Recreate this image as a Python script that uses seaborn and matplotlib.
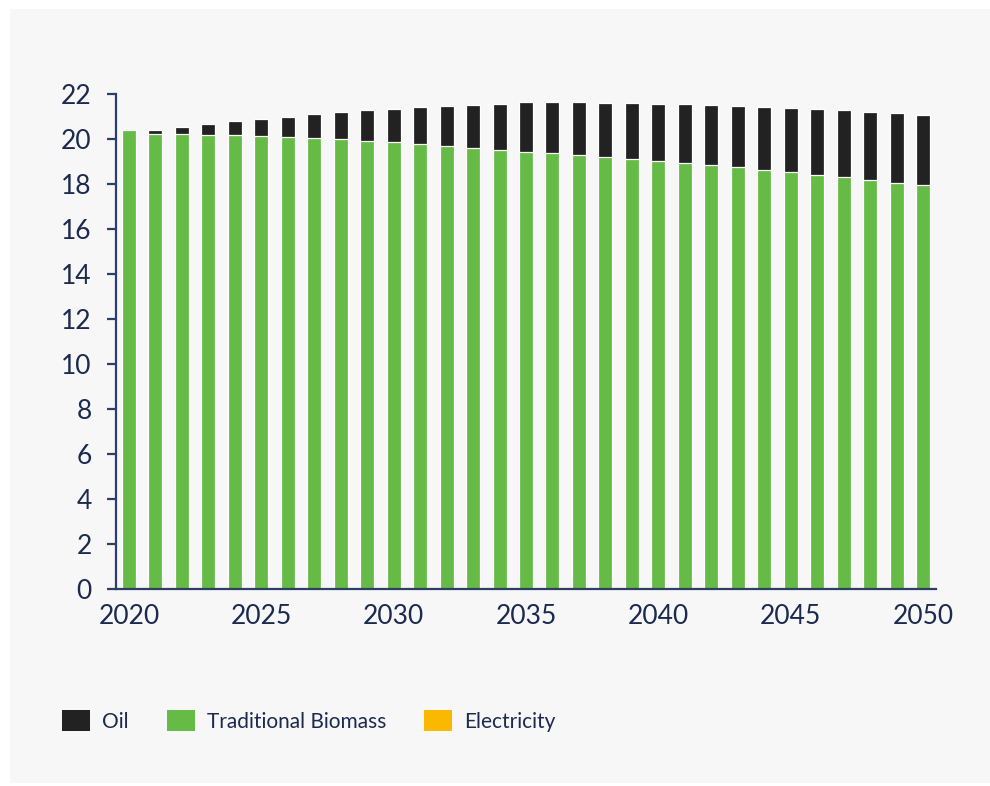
import matplotlib
matplotlib.use("Agg")
import matplotlib.pyplot as plt
from matplotlib.patches import Rectangle, Patch
import numpy as np
import pandas as pd
import seaborn as sns

# Final energy demand by fuel, 2020-2050
years = list(range(2020, 2051))
traditional_biomass = [20.40, 20.22, 20.22, 20.19, 20.19, 20.15, 20.10, 20.06, 20.00, 19.92,
                       19.85, 19.79, 19.70, 19.61, 19.51, 19.41, 19.36, 19.27, 19.21, 19.12,
                       19.04, 18.93, 18.84, 18.74, 18.64, 18.52, 18.41, 18.30, 18.19, 18.06,
                       17.94]
oil = [0.00, 0.16, 0.31, 0.48, 0.60, 0.75, 0.90, 1.03, 1.18, 1.35,
       1.48, 1.62, 1.77, 1.90, 2.06, 2.22, 2.27, 2.36, 2.40, 2.47,
       2.53, 2.63, 2.67, 2.73, 2.78, 2.84, 2.91, 2.97, 3.02, 3.08,
       3.13]
electricity = [0.0] * len(years)

series_names = ["Oil", "Traditional Biomass", "Electricity"]
series_colors = ["#222222", "#65bb46", "#fbb800"]

y_ticks = list(range(0, 23, 2))
x_tick_years = [2020, 2025, 2030, 2035, 2040, 2045, 2050]

df = pd.DataFrame({
    "year": years,
    "biomass": traditional_biomass,
    "oil": oil,
    "electricity": electricity,
})
df["biomass_oil"] = df["biomass"] + df["oil"]
df["total"] = df["biomass_oil"] + df["electricity"]

text_color = "#1c2a4f"
axis_color = "#2d3f66"
panel_color = "#f7f7f7"

sns.set_theme(style="white")
plt.rcParams["font.family"] = ["Lato", "DejaVu Sans"]

fig = plt.figure(figsize=(9.9, 7.86), dpi=100)
fig.patch.set_facecolor("white")
fig.patches.append(Rectangle((10 / 990, 3 / 786), 980 / 990, 774 / 786,
                             transform=fig.transFigure, facecolor=panel_color,
                             edgecolor="none", zorder=-10))

ax = fig.add_axes([116 / 990, 1 - 589 / 786, (936 - 116) / 990, (589 - 94) / 786])
ax.set_facecolor(panel_color)
ax.patch.set_alpha(0)

order = [str(y) for y in years]
df["year_s"] = df["year"].astype(str)
bar_kw = dict(width=0.53, edgecolor="white", linewidth=0.9, saturation=1, order=order)

# stacked bars: draw cumulative totals from the top segment down
sns.barplot(data=df, x="year_s", y="total", color=series_colors[2], ax=ax, **bar_kw)
sns.barplot(data=df, x="year_s", y="biomass_oil", color=series_colors[0], ax=ax, **bar_kw)
sns.barplot(data=df, x="year_s", y="biomass", color=series_colors[1], ax=ax, **bar_kw)

ax.set_xlim(-0.49, len(years) - 0.51)
ax.set_ylim(0, 22)
ax.set_yticks(y_ticks)
ax.set_xticks([years.index(y) for y in x_tick_years])
ax.set_xticklabels([str(y) for y in x_tick_years])
ax.set_xlabel("")
ax.set_ylabel("")

for side in ["top", "right"]:
    ax.spines[side].set_visible(False)
for side in ["left", "bottom"]:
    ax.spines[side].set_color(axis_color)
    ax.spines[side].set_linewidth(1.6)

ax.tick_params(axis="y", which="major", length=6.5, width=1.6, color=axis_color,
               labelsize=19, labelcolor=text_color, pad=11, left=True)
ax.tick_params(axis="x", which="major", length=0, labelsize=19,
               labelcolor=text_color, pad=11)

handles = [Patch(facecolor=c, edgecolor="none") for c in series_colors]
fig.legend(handles, series_names, loc="center left",
           bbox_to_anchor=(43 / 990, 1 - 721 / 786), ncol=3, frameon=False,
           fontsize=15, labelcolor=text_color, handlelength=1.35, handleheight=1.12,
           handletextpad=0.6, columnspacing=1.8)

fig.savefig("out.png", dpi=100, facecolor=fig.get_facecolor())
